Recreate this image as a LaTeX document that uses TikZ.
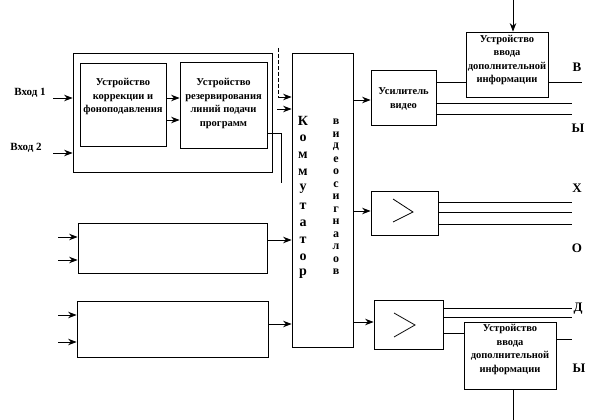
\documentclass[tikz,border=0pt]{standalone}
\usepackage{fontspec}
\setmainfont{Liberation Serif}
\usetikzlibrary{arrows.meta,calc}
\begin{document}
\begin{tikzpicture}[x=1pt,y=-1pt,
  box/.style={draw,line width=0.8pt,inner sep=0pt},
  txt/.style={font=\bfseries\fontsize{10.5}{13.5}\selectfont,align=center,inner sep=0pt},
  arr/.style={line width=0.8pt,-{Stealth[length=8.5pt,width=6.5pt]}},
  ln/.style={line width=0.8pt},
  outl/.style={font=\bfseries\fontsize{13}{15}\selectfont,inner sep=0pt},
  cl/.style={font=\bfseries\fontsize{14}{16}\selectfont,inner sep=0pt},
  cr/.style={font=\bfseries\fontsize{12}{14}\selectfont,inner sep=0pt}]
\useasboundingbox (0,0) rectangle (598,420);
% boxes
\node[box,minimum width=199pt,minimum height=119pt] (outer) at (172.5,112.5) {};
\node[box,minimum width=86pt,minimum height=83pt] (A) at (123,104.5) {};
\node[box,minimum width=87pt,minimum height=86pt] (B) at (223.5,105) {};
\node[box,minimum width=61pt,minimum height=294pt] (K) at (322.5,200) {};
\node[box,minimum width=189pt,minimum height=50pt] (L1) at (172.5,248) {};
\node[box,minimum width=191pt,minimum height=56pt] (L2) at (172.5,329) {};
\node[box,minimum width=65pt,minimum height=55pt] (U1) at (403.5,97.5) {};
\node[box,minimum width=67pt,minimum height=44pt] (U2) at (404.5,213) {};
\node[box,minimum width=69pt,minimum height=49pt] (U3) at (408.5,324.5) {};
\node[box,minimum width=82pt,minimum height=65pt] (D1) at (507,64.5) {};
\node[box,minimum width=92pt,minimum height=67pt] (D2) at (510,355.5) {};
% texts
\node[txt] (At) at (123,97) {Устройство\\коррекции и\\фоноподавления};
\node[txt] (Bt) at (223.5,103.5) {Устройство\\резервирования\\линий подачи\\программ};
\node[txt] (U1t) at (403.5,99) {Усилитель\\видео};
\node[txt] (D1t) at (507,60) {Устройство\\ввода\\дополнительной\\информации};
\node[txt] (D2t) at (510,349.5) {Устройство\\ввода\\дополнительной\\информации};
\node[txt,font=\bfseries\fontsize{11}{13}\selectfont] (in1t) at (30,93) {Вход 1};
\node[txt,font=\bfseries\fontsize{11}{13}\selectfont] (in2t) at (26,148) {Вход 2};
% commutator letters
\foreach \c [count=\i from 0] in {К,о,м,м,у,т,а,т,о,р}
  \node[cl] (kl\i) at (303,{121+17*\i}) {\c};
\foreach \c [count=\i from 0] in {в,и,д,е,о,с,и,г,н,а,л,о,в}
  \node[cr] (kr\i) at (336,{122+12.5*\i}) {\c};
% output letters
\node[outl] (o1) at (577,67) {В};
\node[outl] (o2) at (578,128) {Ы};
\node[outl] (o3) at (577,188) {Х};
\node[outl] (o4) at (577,248) {О};
\node[outl] (o5) at (578,309) {Д};
\node[outl] (o6) at (579,368) {Ы};
% triangles
\draw[ln] (393,199) -- (413,212) -- (393,222);
\draw[ln] (394,313) -- (415,325) -- (394,337);
% inputs
\coordinate (i1) at (53,98);
\coordinate (i2) at (53,153);
\draw[arr] (i1) -- (i1 -| outer.west);
\draw[arr] (i2) -- (i2 -| outer.west);
\draw[arr] (A.east |- 0,98) -- (B.west |- 0,98);
\draw[arr] (A.east |- 0,120) -- (B.west |- 0,120);
% into commutator
\coordinate (d1) at (278,48);
\draw[ln,dashed,dash pattern=on 4pt off 2pt] (d1) -- (278,97);
\draw[arr] (278,97) -- (K.west |- 0,97);
\coordinate (d2) at (277,109);
\draw[arr] (d2) -- (K.west |- d2);
\coordinate (t1) at (281,183);
\draw[ln] (B.east |- 0,133) -| (t1);
\foreach \n/\y in {L1/237,L1/260,L2/315,L2/342}{
  \coordinate (c\n\y) at (58,\y);
  \draw[arr] (c\n\y) -- (\n.west |- c\n\y);
}
\draw[arr] (L1.east |- 0,240) -- (K.west |- 0,240);
\draw[arr] (L2.east |- 0,324) -- (K.west |- 0,324);
% out of commutator
\draw[arr] (K.east |- 0,100) -- (U1.west |- 0,100);
\draw[arr] (K.east |- 0,211) -- (U2.west |- 0,211);
\draw[arr] (K.east |- 0,322) -- (U3.west |- 0,322);
% device top
\coordinate (top1) at (513,0);
\draw[arr] (top1) -- (top1 |- D1.north);
\coordinate (bot2) at (513,420);
\draw[ln] (bot2 |- D2.south) -- (bot2);
% outputs
\draw[ln] (U1.east |- 0,82) -- (D1.west |- 0,82);
\coordinate (e1) at (582,82);
\draw[ln] (D1.east |- e1) -- (e1);
\foreach \y in {103,114}{
  \coordinate (ea\y) at (572,\y);
  \draw[ln] (U1.east |- ea\y) -- (ea\y);
}
\foreach \y in {202,212,224}{
  \coordinate (eb\y) at (572,\y);
  \draw[ln] (U2.east |- eb\y) -- (eb\y);
}
\foreach \y in {308,317}{
  \coordinate (ec\y) at (572,\y);
  \draw[ln] (U3.east |- ec\y) -- (ec\y);
}
\draw[ln] (U3.east |- 0,333) -- (D2.west |- 0,333);
\coordinate (e2) at (572,339);
\draw[ln] (D2.east |- e2) -- (e2);
\end{tikzpicture}
\end{document}
